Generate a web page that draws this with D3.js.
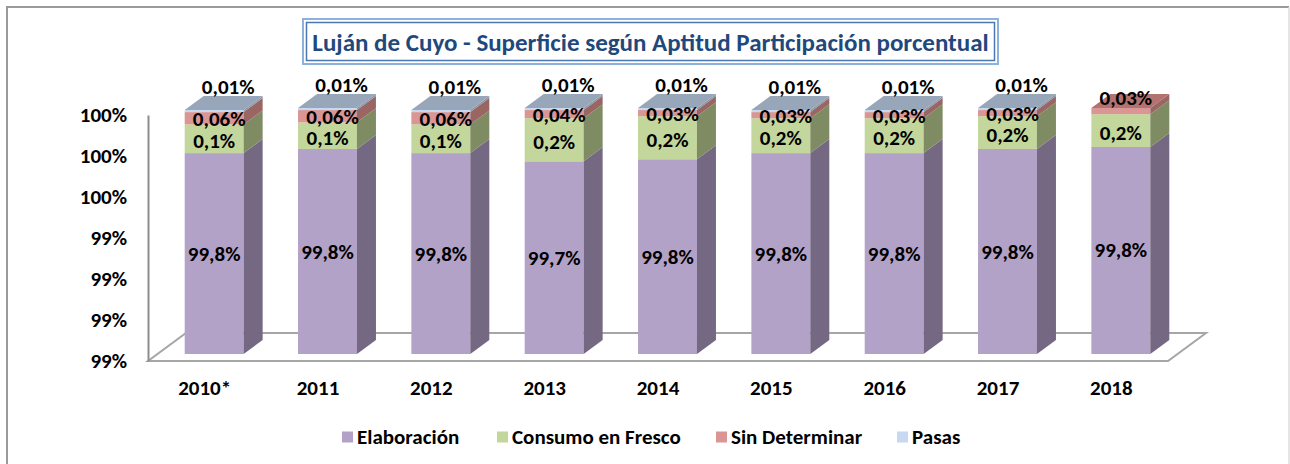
<!DOCTYPE html>
<html>
<head>
<meta charset="utf-8">
<script src="https://cdn.jsdelivr.net/npm/d3@7"></script>
<style>
    body { margin: 0; background: #fff; }
    svg { display: block; font-family: Carlito, Lato, 'Open Sans', sans-serif; }
</style>
</head>
<body>
<svg id="chart" width="1290" height="464"></svg>
<script>
// datos (porcentaje de la superficie)
let categories = ['2010*', '2011', '2012', '2013', '2014', '2015', '2016', '2017', '2018'];
let elaboracion = [99.78, 99.80, 99.78, 99.74, 99.75, 99.78, 99.78, 99.80, 99.81];
let consumoFresco = [0.14, 0.13, 0.14, 0.21, 0.21, 0.17, 0.17, 0.16, 0.16];
let sinDeterminar = [0.06, 0.06, 0.06, 0.04, 0.03, 0.03, 0.03, 0.03, 0.03];
let pasas = [0.01, 0.01, 0.01, 0.01, 0.01, 0.01, 0.01, 0.01, 0];
let yTicks = [98.8, 99.0, 99.2, 99.4, 99.6, 99.8, 100];

let seriesNames = ['Elaboración', 'Consumo en Fresco', 'Sin Determinar', 'Pasas'];
let seriesValues = [elaboracion, consumoFresco, sinDeterminar, pasas];
let seriesDecimals = [1, 1, 2, 2];

let colors = [
    {front: '#B3A2C7', side: '#746882', top: '#8F82A0'},
    {front: '#C3D69B', side: '#7F8B63', top: '#9CAB7C'},
    {front: '#D99694', side: '#9A6664', top: '#B2726F'},
    {front: '#C6D9F1', side: '#8A98AA', top: '#97A6B8'}
];

let FONT_SIZE = 21;

let svg = d3.select('#chart');
let locale = d3.formatLocale({decimal: ',', thousands: '.', grouping: [3], currency: ['$', '']});

// marco del grafico
svg.append('path')
    .attr('d', 'M7,464 L7,7 L1289,7')
    .attr('fill', 'none')
    .attr('stroke', '#9a9a9a')
    .attr('stroke-width', 2);
svg.append('line')
    .attr('x1', 1289).attr('y1', 7).attr('x2', 1289).attr('y2', 464)
    .attr('stroke', '#dcdcdc').attr('stroke-width', 1.5);

// titulo con doble borde
svg.append('rect')
    .attr('x', 303).attr('y', 19).attr('width', 695).attr('height', 45)
    .attr('fill', '#fff').attr('stroke', '#8EB1DC').attr('stroke-width', 2);
svg.append('rect')
    .attr('x', 306.5).attr('y', 22.5).attr('width', 688).attr('height', 38)
    .attr('fill', 'none').attr('stroke', '#4A78B5').attr('stroke-width', 1.5);
svg.append('text')
    .attr('x', 650.5).attr('y', 42)
    .attr('text-anchor', 'middle')
    .attr('dominant-baseline', 'central')
    .attr('font-size', 25)
    .attr('font-weight', 'bold')
    .attr('fill', '#1F497D')
    .text('Luján de Cuyo - Superficie según Aptitud Participación porcentual');

let x = d3.scaleBand()
    .domain(categories)
    .range([148, 1168])
    .paddingInner(0.48)
    .paddingOuter(0.24);

let y = d3.scaleLinear()
    .domain([98.8, 100])
    .range([361, 115]);

// profundidad 3D
let depthX = 38, depthY = -28;
let offX = depthX / 4, offY = depthY / 4;
let sideX = depthX / 2, sideY = depthY / 2;

// piso
let x0 = x.range()[0], x1 = x.range()[1], yb = y(98.8);
svg.append('path')
    .attr('d', `M${x0},${yb} L${x1},${yb} L${x1 + depthX},${yb + depthY} L${x0 + depthX},${yb + depthY} Z`)
    .attr('fill', 'none')
    .attr('stroke', '#a6a6a6')
    .attr('stroke-width', 2);

// eje vertical
let yAxis = d3.axisLeft(y)
    .tickValues(yTicks)
    .tickFormat(d => d3.format('.0f')(d) + '%')
    .tickSize(0)
    .tickSizeOuter(0)
    .tickPadding(21);

let gy = svg.append('g')
    .attr('transform', `translate(${x0},0)`)
    .call(yAxis);
gy.select('.domain').attr('stroke', '#8c8c8c').attr('stroke-width', 2);
gy.selectAll('text')
    .attr('font-size', FONT_SIZE)
    .attr('font-weight', 'bold')
    .attr('fill', '#000')
    .attr('font-family', 'Carlito, Lato, sans-serif');

// eje de categorias
let gx = svg.append('g')
    .attr('transform', `translate(0,${yb})`)
    .call(d3.axisBottom(x).tickSize(0).tickPadding(19));
gx.select('.domain').remove();
gx.selectAll('text')
    .attr('font-size', FONT_SIZE)
    .attr('font-weight', 'bold')
    .attr('fill', '#000')
    .attr('font-family', 'Carlito, Lato, sans-serif');

// barras apiladas
let bw = x.bandwidth();
let labels = svg.append('g');

categories.forEach((cat, i) => {
    let bx = x(cat) + offX;
    let base = 98.8;
    let g = svg.append('g');
    let topIndex = 0;
    seriesValues.forEach((vals, s) => { if (vals[i] > 0) topIndex = s; });

    seriesValues.forEach((vals, s) => {
        let v = vals[i];
        if (v <= 0) return;
        let start = base;
        let end = s === 0 ? v : start + v;
        let yTop = y(end) + offY, yBot = y(start) + offY;
        base = end;

        g.append('rect')
            .attr('x', bx).attr('y', yTop)
            .attr('width', bw).attr('height', yBot - yTop)
            .attr('fill', colors[s].front);
        g.append('path')
            .attr('d', `M${bx + bw},${yBot} L${bx + bw + sideX},${yBot + sideY} L${bx + bw + sideX},${yTop + sideY} L${bx + bw},${yTop} Z`)
            .attr('fill', colors[s].side);
        if (s === topIndex) {
            g.append('path')
                .attr('d', `M${bx},${yTop} L${bx + bw},${yTop} L${bx + bw + sideX},${yTop + sideY} L${bx + sideX},${yTop + sideY} Z`)
                .attr('fill', colors[s].top);
        }

        // etiqueta de datos
        let txt = locale.format('.' + seriesDecimals[s] + 'f')(v) + '%';
        let cx = bx + bw / 2, cy = (yTop + yBot) / 2;
        if (s === 1) cy += 2;
        if (s === 2) {
            cx += 5;
            cy = s === topIndex ? yTop - 10 : cy + 1;
        }
        if (s === 3) {
            cx += 14;
            cy = yTop - 23;
        }
        labels.append('text')
            .attr('x', cx).attr('y', cy)
            .attr('text-anchor', 'middle')
            .attr('dominant-baseline', 'central')
            .attr('font-size', FONT_SIZE)
            .attr('font-weight', 'bold')
            .attr('fill', '#000')
            .text(txt);
    });
});
labels.raise();

// leyenda
let legendX = [342, 497, 716, 897];
let legend = svg.append('g');
seriesNames.forEach((name, s) => {
    let lg = legend.append('g').attr('transform', `translate(${legendX[s]},437)`);
    lg.append('rect')
        .attr('x', 0).attr('y', -5.5)
        .attr('width', 11).attr('height', 11)
        .attr('fill', colors[s].front);
    lg.append('text')
        .attr('x', 15).attr('y', 0)
        .attr('dominant-baseline', 'central')
        .attr('font-size', FONT_SIZE)
        .attr('font-weight', 'bold')
        .attr('fill', '#000')
        .text(name);
});
</script>
</body>
</html>
